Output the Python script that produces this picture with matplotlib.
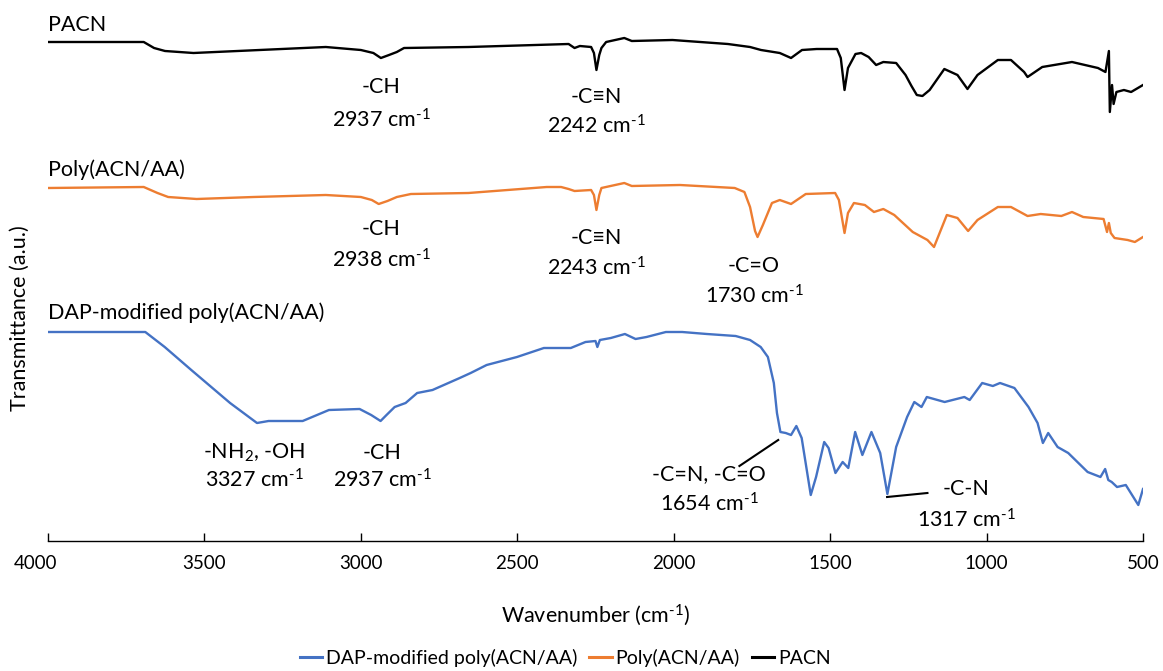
import matplotlib.pyplot as plt
import matplotlib.transforms as mtransforms

plt.rcParams['font.family'] = ['Lato', 'DejaVu Sans']
plt.rcParams['mathtext.fontset'] = 'custom'
plt.rcParams['mathtext.rm'] = 'Lato'
plt.rcParams['mathtext.it'] = 'Lato:italic'
plt.rcParams['mathtext.bf'] = 'Lato:bold'

# FTIR spectra: wavenumber (cm-1) and stacked transmittance (a.u.)
pacn_wn = [4000, 3694, 3661, 3626, 3535, 3112, 3000, 2960, 2936, 2910, 2885, 2862, 2656,
           2336, 2317, 2300, 2264, 2255, 2247, 2238, 2231, 2216, 2158, 2134, 2004, 1827,
           1756, 1721, 1661, 1625, 1590, 1543, 1478, 1466, 1454, 1443, 1419, 1401, 1377,
           1353, 1330, 1289, 1259, 1240, 1223, 1205, 1182, 1135, 1093, 1061, 1029, 964, 922,
           880, 869, 822, 727, 644, 620, 609, 606, 599, 594, 585, 561, 538, 500]
pacn_t = [49.9, 49.9, 49.3, 49.0, 48.8, 49.4, 49.1, 48.8, 48.3, 48.6, 48.9, 49.3, 49.4,
          49.7, 49.3, 49.5, 49.4, 48.8, 47.1, 48.6, 49.3, 49.9, 50.3, 50.0, 50.1, 49.7,
          49.4, 49.1, 48.8, 48.3, 49.1, 49.2, 49.2, 48.3, 45.1, 47.3, 48.7, 48.8, 48.4,
          47.6, 47.9, 47.8, 46.6, 45.5, 44.6, 44.5, 45.1, 47.2, 46.6, 45.2, 46.6, 48.1, 48.1,
          46.9, 46.4, 47.4, 47.9, 47.3, 46.9, 49.0, 42.9, 45.6, 43.7, 44.9, 45.1, 44.9, 45.6]

poly_wn = [4000, 3694, 3650, 3616, 3525, 3343, 3112, 3000, 2965, 2943, 2915, 2885, 2840,
           2656, 2406, 2360, 2336, 2317, 2264, 2255, 2247, 2238, 2231, 2158, 2134, 1980,
           1805, 1774, 1756, 1740, 1732, 1715, 1686, 1661, 1625, 1578, 1484, 1472, 1454,
           1443, 1424, 1389, 1360, 1330, 1295, 1236, 1189, 1168, 1127, 1093, 1059, 1029, 964,
           922, 869, 827, 761, 727, 691, 626, 615, 609, 603, 591, 549, 526, 500]
poly_t = [35.3, 35.4, 34.8, 34.4, 34.2, 34.4, 34.6, 34.4, 34.1, 33.7, 34.0, 34.4, 34.7,
          34.8, 35.4, 35.4, 35.2, 35.0, 35.1, 34.6, 33.1, 34.6, 35.3, 35.8, 35.5, 35.6,
          35.3, 34.9, 33.4, 31.0, 30.4, 31.6, 33.8, 34.1, 33.7, 34.7, 34.8, 34.1, 30.8,
          32.8, 33.8, 33.6, 32.9, 33.2, 32.6, 30.9, 30.1, 29.4, 32.6, 32.3, 31.0, 32.1, 33.4,
          33.4, 32.5, 32.7, 32.5, 32.9, 32.4, 32.2, 30.9, 31.8, 30.8, 30.3, 30.1, 29.9, 30.4]

dap_wn = [4000, 3689, 3627, 3542, 3418, 3332, 3295, 3186, 3102, 3004, 2967, 2937, 2918,
          2892, 2857, 2820, 2771, 2684, 2649, 2598, 2501, 2415, 2329, 2282, 2250, 2244,
          2236, 2201, 2156, 2122, 2087, 2025, 1973, 1894, 1802, 1756, 1722, 1699, 1680,
          1670, 1659, 1642, 1625, 1608, 1591, 1562, 1545, 1519, 1505, 1483, 1460, 1442,
          1420, 1397, 1368, 1340, 1317, 1289, 1254, 1231, 1208, 1191, 1134, 1071, 1054,
          1014, 980, 957, 911, 866, 837, 820, 803, 773, 739, 677, 636, 621, 611, 600, 583,
          555, 515, 500]
dap_t = [20.9, 20.9, 19.4, 17.1, 13.8, 11.8, 12.0, 12.0, 13.1, 13.2, 12.6, 12.0, 12.6,
         13.4, 13.8, 14.8, 15.1, 16.3, 16.8, 17.6, 18.4, 19.3, 19.3, 19.9, 20.0, 19.4,
         20.1, 20.3, 20.7, 20.2, 20.4, 20.9, 20.9, 20.7, 20.5, 20.1, 19.4, 18.4, 15.8,
         12.8, 10.9, 10.8, 10.6, 11.5, 10.3, 4.6, 6.4, 9.9, 9.3, 6.8, 7.9, 7.3,
         10.9, 8.6, 10.9, 8.8, 4.7, 9.4, 12.4, 13.9, 13.4, 14.4, 13.9, 14.4, 14.1,
         15.8, 15.5, 15.8, 15.3, 13.4, 11.8, 9.8, 10.8, 9.4, 8.8, 6.9, 6.4, 7.2, 6.1, 5.9, 5.4,
         5.6, 3.6, 5.2]

names = ['DAP-modified poly(ACN/AA)', 'Poly(ACN/AA)', 'PACN']
colors = ['#4472C4', '#ED7D31', '#000000']

# peak labels: (x, y of group line, y of wavenumber line, group, wavenumber)
peaks = [
    (2936, 44.8, 41.4, '-CH', 2937),
    (2248, 43.8, 40.8, '-C\u2261N', 2242),
    (2936, 30.6, 27.3, '-CH', 2938),
    (2246, 29.7, 26.6, '-C\u2261N', 2243),
    (1743, 26.9, 23.8, '-C=O', 1730),
    (3340, 8.2, 5.3, '-NH$_2$, -OH', 3327),
    (2932, 8.2, 5.4, '-CH', 2937),
    (1887, 6.1, 2.9, '-C=N, -C=O', 1654),
    (1066, 4.6, 1.4, '-C-N', 1317),
]
# leader lines for the crowded region
leaders = [([1790, 1666], [7.5, 10.1]), ([1318, 1189], [4.4, 4.8])]

fig = plt.figure(figsize=(11.63, 6.71), dpi=100)
ax = fig.add_axes([48 / 1163, 130 / 671, 1095 / 1163, 531 / 671])

ax.plot(dap_wn, dap_t, color=colors[0], lw=1.7, label=names[0])
ax.plot(poly_wn, poly_t, color=colors[1], lw=1.7, label=names[1])
ax.plot(pacn_wn, pacn_t, color=colors[2], lw=1.7, label=names[2])

# spectrum names above each trace
for name, y in zip(['PACN', 'Poly(ACN/AA)', 'DAP-modified poly(ACN/AA)'], [51.6, 37.1, 22.8]):
    ax.text(4000, y, name, fontsize=15.5, ha='left', va='center')

for x, y1, y2, grp, wn in peaks:
    ax.text(x, y1, grp, fontsize=15.5, ha='center', va='baseline')
    ax.text(x, y2, f'{wn} cm$^{{\\text{{-}}1}}$', fontsize=15.5, ha='center', va='baseline')

for lx, ly in leaders:
    ax.plot(lx, ly, color='black', lw=1.5)

ax.set_xlim(4000, 500)
ax.set_ylim(0, 53.1)
ax.set_xticks(range(4000, 499, -500))
ax.set_yticks([])
ax.tick_params(axis='x', direction='in', length=6, width=1, pad=10, labelsize=13.5)
for side in ['left', 'right', 'top']:
    ax.spines[side].set_visible(False)
ax.spines['bottom'].set_linewidth(1)

# first tick label sits a little left of its tick
first = ax.xaxis.get_major_ticks()[0].label1
first.set_transform(first.get_transform()
                    + mtransforms.ScaledTranslation(-0.12, 0, fig.dpi_scale_trans))

ax.set_xlabel('Wavenumber (cm$^{\\text{-}1}$)', fontsize=15.5)
ax.xaxis.set_label_coords(0.5, -0.115)
fig.text(20 / 1163, 1 - 318 / 671, 'Transmittance (a.u.)', rotation=90,
         fontsize=15.5, ha='center', va='center')

leg = fig.legend(loc='center', bbox_to_anchor=(0.486, 1 - 658 / 671), ncol=3, frameon=False,
                 fontsize=14, handlelength=1.15, handletextpad=0.2, columnspacing=0.6)
for line in leg.get_lines():
    line.set_linewidth(2.2)

fig.savefig('out.png', dpi=100)
